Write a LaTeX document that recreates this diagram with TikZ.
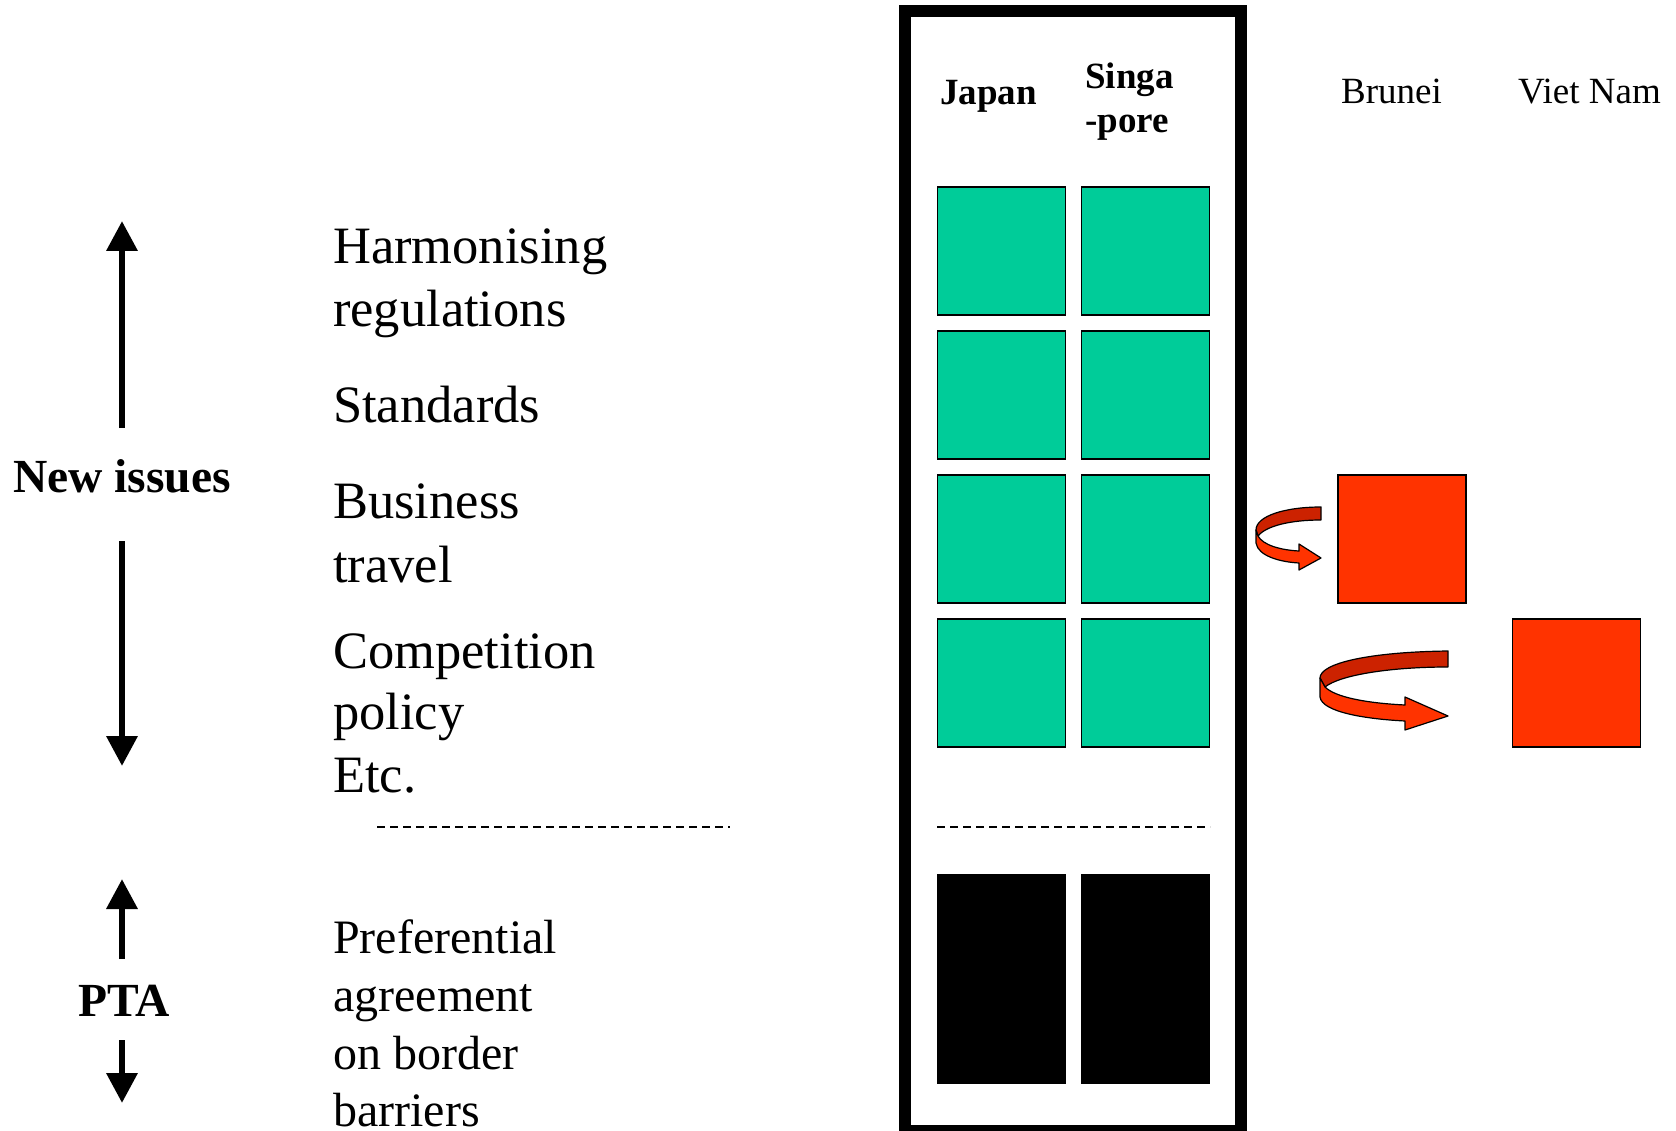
\documentclass[tikz,border=0pt]{standalone}
\usepackage{fontspec}
\setmainfont{Liberation Serif}
\usetikzlibrary{arrows.meta}

\definecolor{cellgreen}{HTML}{00CC99}
\definecolor{blockred}{HTML}{FF3300}
\definecolor{backred}{HTML}{CC2200}

\tikzstyle{cell}=[rectangle,draw,line width=1.2pt,fill=cellgreen,minimum size=128pt,inner sep=0pt]
\tikzstyle{redcell}=[cell,fill=blockred]
\tikzstyle{bar}=[rectangle,fill=black,minimum width=129pt,minimum height=210pt,inner sep=0pt]
\tikzstyle{item}=[anchor=base west,inner sep=0pt,font=\fontsize{52.5}{60}\selectfont]
\tikzstyle{ptaitem}=[item,font=\fontsize{48}{56}\selectfont]
\tikzstyle{head}=[anchor=base west,inner sep=0pt,font=\fontsize{37}{44}\selectfont\bfseries]
\tikzstyle{country}=[anchor=base west,inner sep=0pt,font=\fontsize{37}{44}\selectfont]
\tikzstyle{issue}=[anchor=base,inner sep=0pt,font=\fontsize{47.5}{56}\selectfont\bfseries]
\tikzstyle{bigarrow}=[draw,line width=6.5pt,-{Triangle[width=30pt,length=30pt]}]
\tikzstyle{sep}=[draw,dash pattern=on 8pt off 5pt]
\tikzstyle{ribbon}=[draw=black,line width=1.2pt,line join=round]

\begin{document}
\begin{tikzpicture}[x=1pt,y=-1pt]
	\useasboundingbox (0,0) rectangle (1676,1131);

	% left column
	\node [issue] (newissues) at (122, 492)  {New issues};
	\node [issue] (pta)       at (124,1016)  {PTA};
	\coordinate (niup0)  at (122, 428);
	\coordinate (niup1)  at (122, 221);
	\coordinate (nidn0)  at (122, 541);
	\coordinate (nidn1)  at (122, 766);
	\coordinate (ptaup0) at (122, 959);
	\coordinate (ptaup1) at (122, 879);
	\coordinate (ptadn0) at (122,1040);
	\coordinate (ptadn1) at (122,1103);

	\node [item] (harm)   at (333, 264) {Harmonising};
	\node [item] (regu)   at (333, 327) {regulations};
	\node [item] (stand)  at (333, 423) {Standards};
	\node [item] (busi)   at (333, 518) {Business};
	\node [item] (trav)   at (333, 582) {travel};
	\node [item] (comp)   at (333, 668) {Competition};
	\node [item] (poli)   at (333, 729) {policy};
	\node [item] (etc)    at (333, 792) {Etc.};
	\node [ptaitem] (pref)   at (333, 953) {Preferential};
	\node [ptaitem] (agree)  at (333,1011) {agreement};
	\node [ptaitem] (border) at (333,1069) {on border};
	\node [ptaitem] (barr)   at (333,1126) {barriers};

	\coordinate (sepl0) at (377, 827);
	\coordinate (sepl1) at (730, 827);

	% agreement box
	\draw [line width=12pt] (905,11.5) rectangle (1241,1131);
	\node [head] (japan) at ( 940,105) {Japan};
	\node [head] (singa) at (1085, 89) {Singa};
	\node [head] (pore)  at (1085,133) {-pore};

	\node [cell] (j1) at (1001.5,251) {};
	\node [cell] (s1) at (1145.5,251) {};
	\node [cell] (j2) at (1001.5,395) {};
	\node [cell] (s2) at (1145.5,395) {};
	\node [cell] (j3) at (1001.5,539) {};
	\node [cell] (s3) at (1145.5,539) {};
	\node [cell] (j4) at (1001.5,683) {};
	\node [cell] (s4) at (1145.5,683) {};

	\coordinate (sepr0) at ( 937, 827);
	\coordinate (sepr1) at (1210, 827);

	\node [bar] (jbar) at (1001.5,979) {};
	\node [bar] (sbar) at (1145.0,979) {};

	% joining countries
	\node [country] (brunei)  at (1341,104) {Brunei};
	\node [country] (vietnam) at (1518,104) {Viet Nam};
	\node [redcell] (bn) at (1402.0,539) {};
	\node [redcell] (vn) at (1576.5,683) {};

	\draw [bigarrow] (niup0)  -- (niup1);
	\draw [bigarrow] (nidn0)  -- (nidn1);
	\draw [bigarrow] (ptaup0) -- (ptaup1);
	\draw [bigarrow] (ptadn0) -- (ptadn1);
	\draw [sep, line width=1.5pt] (sepl0) -- (sepl1);
	\draw [sep, line width=2.5pt] (sepr0) -- (sepr1);

	% turning arrows
	\filldraw [ribbon, fill=backred] (1321,507) .. controls (1285,507) and (1256,516) .. (1256,530)
		-- (1258,536) .. controls (1266,526) and (1290,520) .. (1321,520) -- cycle;
	\filldraw [ribbon, fill=blockred] (1256,530) -- (1256,543) .. controls (1258,556) and (1280,562) .. (1299,563)
		-- (1299,570) -- (1321,558) -- (1299,544) -- (1299,551) .. controls (1280,550) and (1263,545) .. (1258,536) -- cycle;
	\filldraw [ribbon, fill=backred] (1448,651) .. controls (1370,652) and (1320,663) .. (1320,678)
		-- (1325,687) .. controls (1340,675) and (1390,667) .. (1448,667) -- cycle;
	\filldraw [ribbon, fill=blockred] (1320,678) -- (1320,697) .. controls (1322,712) and (1365,719) .. (1405,721)
		-- (1405,730) -- (1448,716) -- (1405,697) -- (1405,705) .. controls (1365,703) and (1335,697) .. (1325,687) -- cycle;
\end{tikzpicture}
\end{document}
